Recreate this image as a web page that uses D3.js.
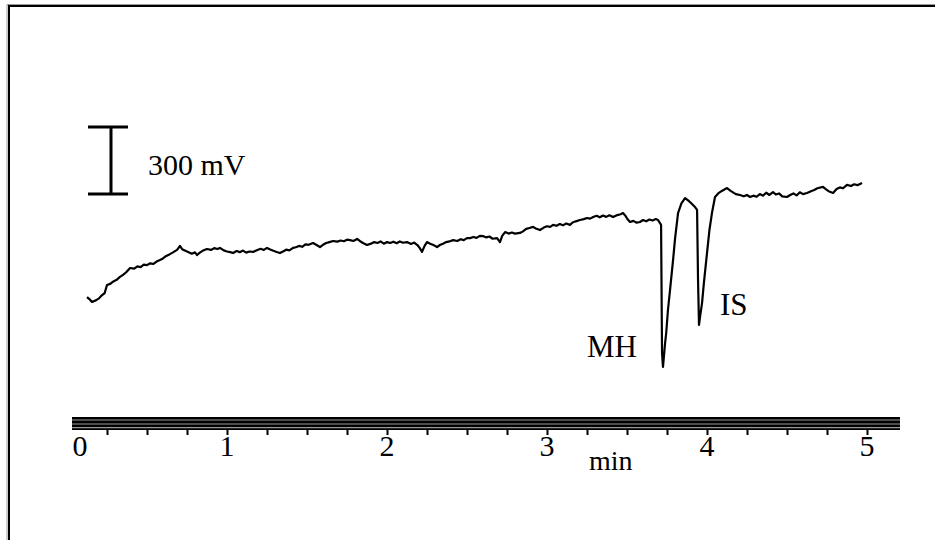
<!DOCTYPE html>
<html>
<head>
<meta charset="utf-8">
<script src="https://cdn.jsdelivr.net/npm/d3@7"></script>
<style>
  html, body { margin: 0; padding: 0; background: #fff; }
  svg { display: block; }
  text { font-family: "Liberation Serif", "Times New Roman", serif; fill: #000; }
</style>
</head>
<body>
<svg id="chart" width="935" height="540"></svg>
<script>
// ---- data (time in min, signal in mV) ----
const times = [0.125,0.14,0.156,0.18,0.2,0.219,0.235,0.25,0.27,0.29,0.31,0.331,0.35,0.37,0.394,0.42,0.44,0.46,0.48,0.5,0.52,0.54,0.56,0.581,0.6,0.62,0.64,0.66,0.688,0.706,0.72,0.74,0.76,0.78,0.8,0.813,0.83,0.85,0.875,0.9,0.92,0.94,0.956,0.98,1.0,1.02,1.038,1.06,1.08,1.1,1.12,1.14,1.163,1.19,1.21,1.23,1.25,1.27,1.29,1.31,1.331,1.35,1.37,1.39,1.413,1.43,1.45,1.47,1.49,1.51,1.538,1.56,1.581,1.6,1.62,1.64,1.663,1.69,1.71,1.73,1.75,1.769,1.79,1.813,1.83,1.85,1.875,1.9,1.92,1.94,1.96,1.98,2.0,2.02,2.04,2.06,2.08,2.1,2.125,2.15,2.17,2.19,2.205,2.219,2.235,2.25,2.27,2.29,2.313,2.33,2.35,2.37,2.39,2.413,2.44,2.46,2.48,2.5,2.519,2.54,2.56,2.58,2.6,2.62,2.64,2.66,2.688,2.706,2.72,2.738,2.76,2.78,2.8,2.831,2.85,2.87,2.89,2.913,2.93,2.956,2.98,3.0,3.02,3.038,3.06,3.08,3.1,3.12,3.144,3.16,3.18,3.206,3.23,3.25,3.27,3.288,3.31,3.33,3.35,3.37,3.39,3.413,3.44,3.46,3.475,3.49,3.505,3.519,3.54,3.56,3.581,3.6,3.62,3.64,3.66,3.68,3.694,3.713,3.719,3.725,3.738,3.745,3.756,3.77,3.788,3.8,3.819,3.84,3.863,3.88,3.9,3.925,3.938,3.944,3.95,3.958,3.969,3.98,4.0,4.015,4.031,4.05,4.07,4.09,4.125,4.15,4.18,4.206,4.23,4.25,4.269,4.29,4.31,4.33,4.35,4.37,4.39,4.413,4.43,4.45,4.47,4.5,4.52,4.54,4.56,4.58,4.6,4.625,4.65,4.67,4.69,4.725,4.74,4.76,4.788,4.81,4.83,4.85,4.875,4.9,4.92,4.94,4.969];
const signal = [461,452,439,446,455,470,478,515,520,531,538,551,560,572,591,588,598,595,606,604,612,609,620,627,634,645,652,660,672,690,675,668,662,655,661,649,660,669,676,672,680,676,681,670,665,662,658,667,662,669,660,665,663,672,677,672,681,674,668,663,658,665,673,670,681,684,690,686,697,695,703,694,685,695,703,707,712,709,714,711,718,716,712,721,712,703,694,700,707,703,710,700,707,703,709,702,710,704,707,699,705,694,680,663,690,707,700,694,685,694,700,707,710,716,712,720,716,725,725,730,726,735,734,728,732,722,725,707,735,752,745,750,745,748,755,766,770,775,768,761,772,778,775,784,780,788,782,790,784,795,800,806,810,815,812,819,825,818,826,820,827,819,828,832,837,825,808,797,802,794,797,806,800,808,804,810,806,784,210,148,255,300,403,500,627,720,837,880,904,895,882,864,851,537,336,380,434,520,658,760,837,909,925,935,949,935,922,918,912,918,909,915,910,922,915,928,918,931,920,925,912,909,918,925,916,930,922,927,935,940,948,954,945,935,927,945,952,948,963,958,966,962,972];
const tickValues = [0,0.25,0.5,0.75,1,1.25,1.5,1.75,2,2.25,2.5,2.75,3,3.25,3.5,3.75,4,4.25,4.5,4.75,5];
const tickLabels = ["0","1","2","3","4","5"];
const peakLabels = ["MH","IS"];
const scaleBarBase = 922;   // mV
const scaleBarSize = 300;   // mV
const scaleBarLabel = "300 mV";
const axisUnit = "min";

// ---- scales ----
const svg = d3.select("#chart");
const x = d3.scaleLinear().domain([0, 5]).range([67, 867]);
const y = d3.scaleLinear().domain([0, 1500]).range([400, 400 - 1500 * 67 / 300]);

// frame
svg.append("path")
  .attr("d", "M9,545 L9,6 L940,6")
  .attr("fill", "none").attr("stroke", "#000").attr("stroke-width", 2);
svg.append("path")
  .attr("d", "M7,545 L7,4.5 L940,4.5")
  .attr("fill", "none").attr("stroke", "#999").attr("stroke-width", 1);

// trace
const pts = times.map((t, i) => [t, signal[i]]);
svg.append("path")
  .datum(pts)
  .attr("fill", "none")
  .attr("stroke", "#000")
  .attr("stroke-width", 2.2)
  .attr("stroke-linejoin", "round")
  .attr("d", d3.line().x(d => x(d[0])).y(d => y(d[1])));

// axis bar (multi-line)
const barX0 = 72, barX1 = 900;
svg.append("rect").attr("x", barX0).attr("y", 417).attr("width", barX1 - barX0).attr("height", 13).attr("fill", "#000");
[420, 424, 427.7].forEach(yy => {
  svg.append("line").attr("x1", barX0).attr("x2", barX1).attr("y1", yy).attr("y2", yy)
    .attr("stroke", "#9a9a9a").attr("stroke-width", 1.2);
});

// ticks
const axis = d3.axisBottom(x).tickValues(tickValues.filter(v => v > 0)).tickSize(5).tickFormat("");
const ag = svg.append("g").attr("transform", "translate(0,430)").call(axis);
ag.select(".domain").remove();
ag.selectAll(".tick line").attr("stroke", "#000").attr("stroke-width", 2);

// tick labels
tickLabels.forEach(lab => {
  const v = +lab;
  svg.append("text")
    .attr("x", v === 0 ? x(v) + 13 : x(v))
    .attr("y", 456)
    .attr("text-anchor", "middle")
    .attr("font-size", 30)
    .text(lab);
});
svg.append("text").attr("x", 589).attr("y", 470).attr("font-size", 28).text(axisUnit);

// peak labels
svg.append("text").attr("x", 587).attr("y", 357).attr("font-size", 31).text(peakLabels[0]);
svg.append("text").attr("x", 720).attr("y", 315).attr("font-size", 31).text(peakLabels[1]);

// scale bar
const sb = svg.append("g").attr("stroke", "#000").attr("stroke-width", 3);
sb.append("line").attr("x1", 111).attr("x2", 111).attr("y1", y(scaleBarBase)).attr("y2", y(scaleBarBase + scaleBarSize));
sb.append("line").attr("x1", 88).attr("x2", 128).attr("y1", y(scaleBarBase)).attr("y2", y(scaleBarBase));
sb.append("line").attr("x1", 88).attr("x2", 128).attr("y1", y(scaleBarBase + scaleBarSize)).attr("y2", y(scaleBarBase + scaleBarSize));
svg.append("text").attr("x", 148).attr("y", 175).attr("font-size", 30).text(scaleBarLabel);
</script>
</body>
</html>
